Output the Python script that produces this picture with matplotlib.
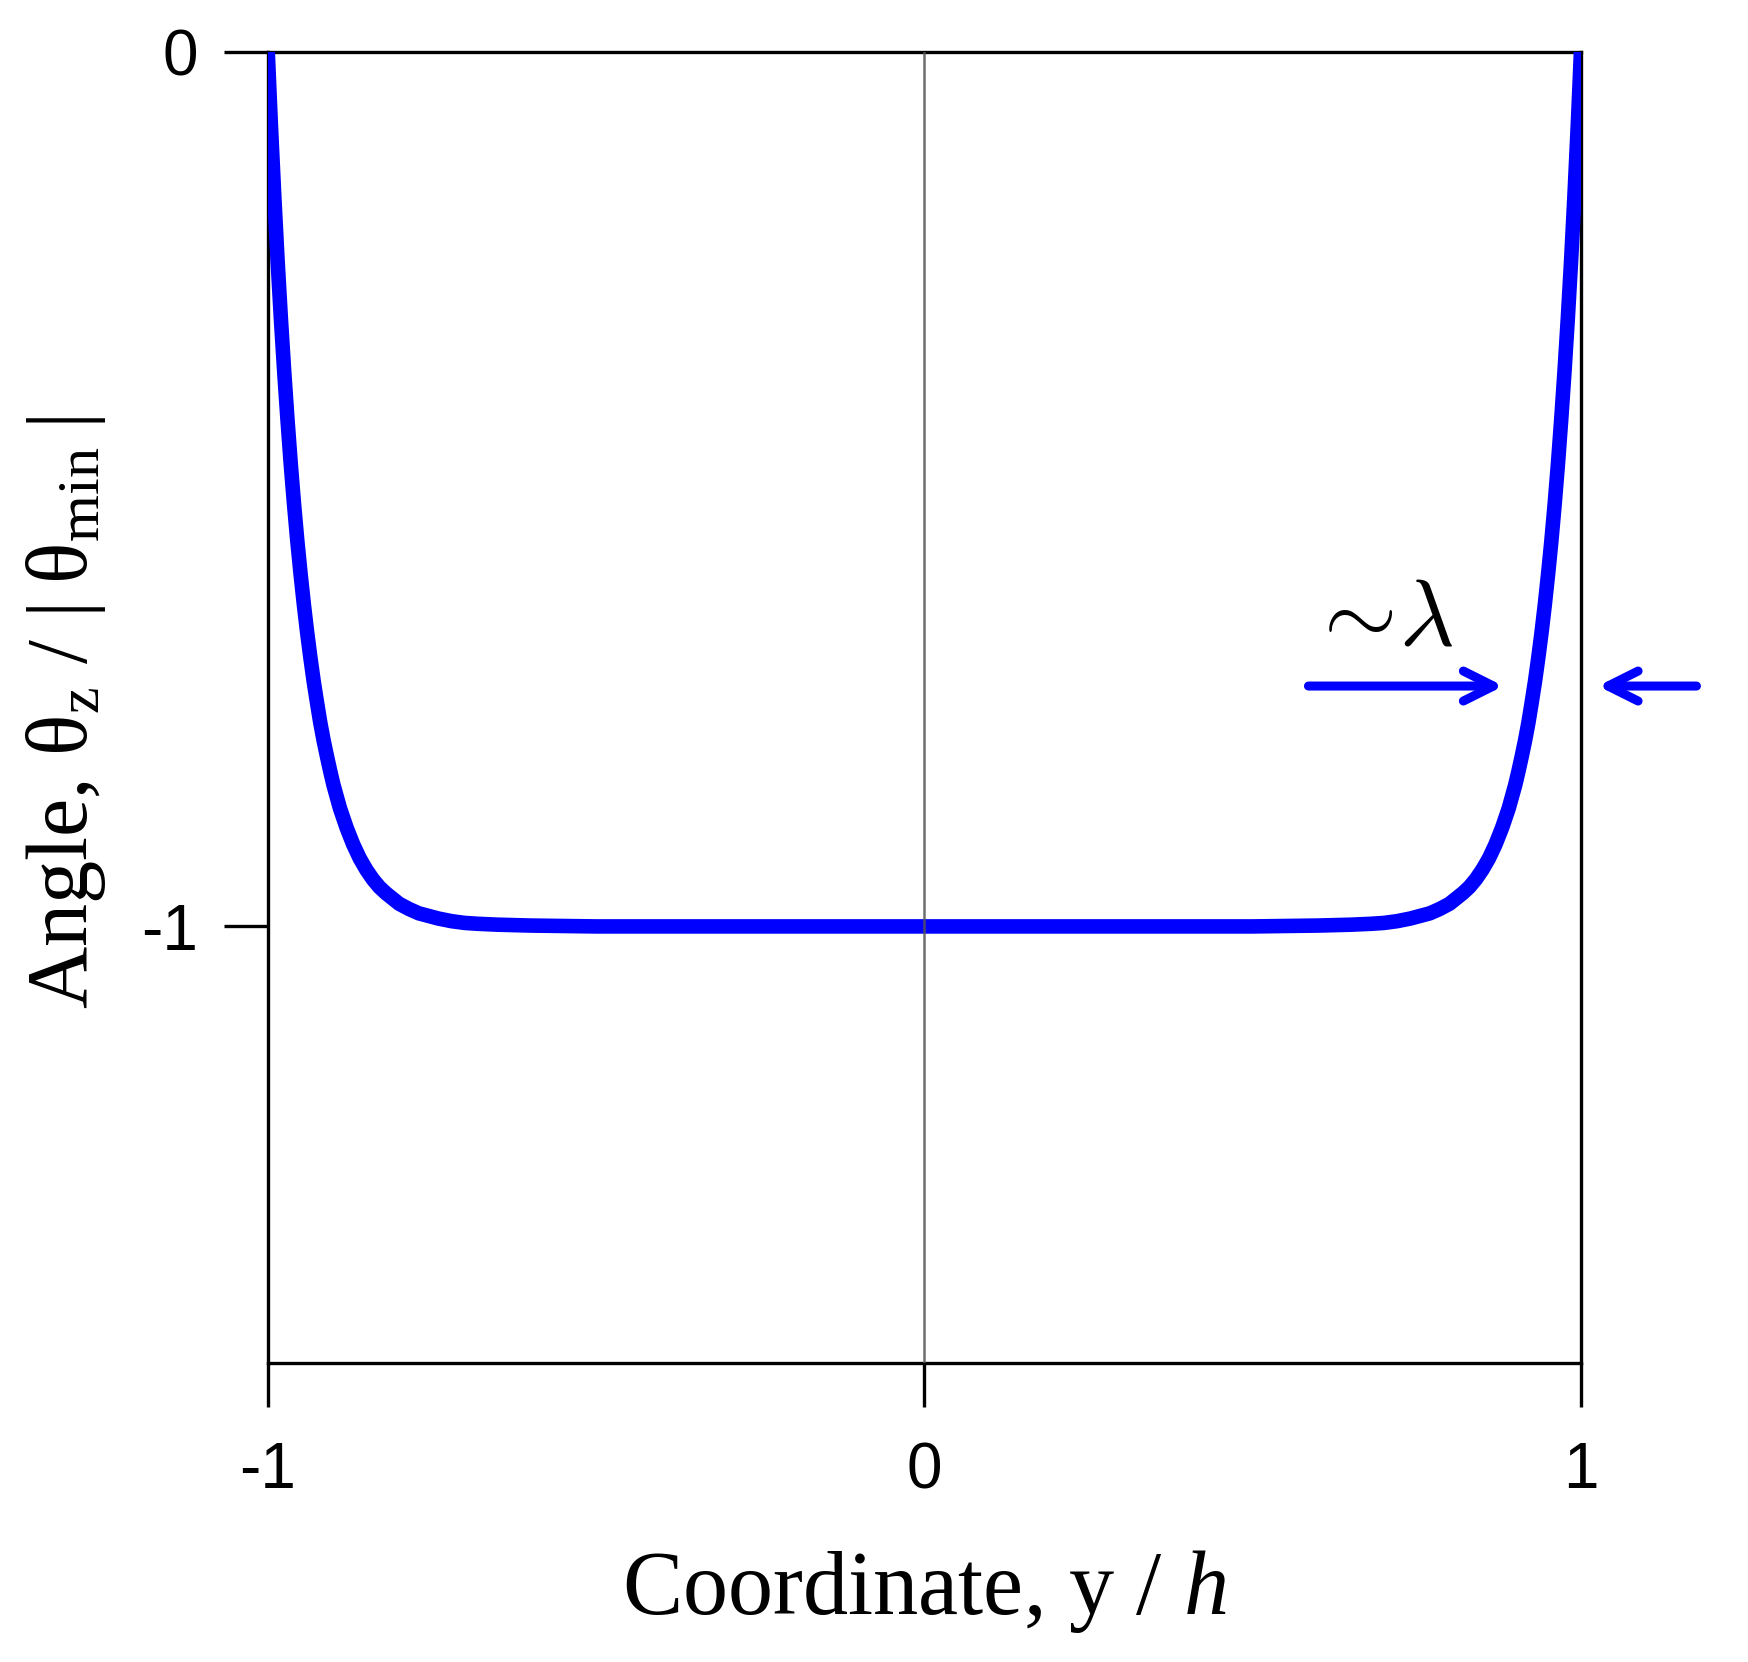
import matplotlib
matplotlib.use("Agg")
import matplotlib.pyplot as plt

# ---- data ----
y_left = [-1.0, -0.9975, -0.995, -0.99, -0.985, -0.98, -0.975, -0.97, -0.965, -0.96,
          -0.955, -0.95, -0.945, -0.94, -0.935, -0.93, -0.925, -0.92, -0.915, -0.91,
          -0.905, -0.90, -0.89, -0.88, -0.87, -0.86, -0.85, -0.84, -0.83, -0.82,
          -0.81, -0.80, -0.785, -0.77, -0.755, -0.74, -0.72, -0.70, -0.68, -0.65,
          -0.60, -0.50, -0.30]
angle_left = [0.0, -0.044, -0.087, -0.166, -0.239, -0.305, -0.365, -0.420, -0.471, -0.517,
              -0.559, -0.597, -0.632, -0.664, -0.693, -0.720, -0.744, -0.767, -0.787, -0.805,
              -0.822, -0.838, -0.865, -0.887, -0.906, -0.922, -0.935, -0.946, -0.955, -0.962,
              -0.968, -0.974, -0.980, -0.985, -0.988, -0.991, -0.994, -0.996, -0.997, -0.998,
              -0.999, -1.0, -1.0]
y_mid = [0.0]
angle_mid = [-1.0]
y_right = [0.30, 0.50, 0.60, 0.65, 0.68, 0.70, 0.72, 0.74, 0.755, 0.77,
           0.785, 0.80, 0.81, 0.82, 0.83, 0.84, 0.85, 0.86, 0.87, 0.88,
           0.89, 0.90, 0.905, 0.91, 0.915, 0.92, 0.925, 0.93, 0.935, 0.94,
           0.945, 0.95, 0.955, 0.96, 0.965, 0.97, 0.975, 0.98, 0.985, 0.99,
           0.995, 0.9975, 1.0]
angle_right = [-1.0, -1.0, -0.999, -0.998, -0.997, -0.996, -0.994, -0.991, -0.988, -0.985,
               -0.980, -0.974, -0.968, -0.962, -0.955, -0.946, -0.935, -0.922, -0.906, -0.887,
               -0.865, -0.838, -0.822, -0.805, -0.787, -0.767, -0.744, -0.720, -0.693, -0.664,
               -0.632, -0.597, -0.559, -0.517, -0.471, -0.420, -0.365, -0.305, -0.239, -0.166,
               -0.087, -0.044, 0.0]

x_ticks = [-1, 0, 1]
x_ticklabels = ["-1", "0", "1"]
y_ticks = [-1, 0]
y_ticklabels = ["-1", "0"]

# annotation arrow ends (data coords)
arrow_right = [(0.585, -0.725), (0.882, -0.725)]   # (tail, tip)
arrow_left = [(1.176, -0.725), (1.026, -0.725)]    # (tail, tip)
lambda_pos = (0.694, -0.678)

plt.rcParams['mathtext.fontset'] = 'custom'
plt.rcParams['mathtext.rm'] = 'Liberation Serif'
plt.rcParams['mathtext.it'] = 'Liberation Serif:italic'

fig = plt.figure(figsize=(17.49, 16.62), dpi=100)
ax = fig.add_axes([0.1531, 0.17961, 0.9039 - 0.1531, 0.96853 - 0.17961])

blue = '#0000FF'
xs = y_left + y_mid + y_right
vs = angle_left + angle_mid + angle_right
ax.plot(xs, vs, color=blue, lw=10.5, solid_capstyle='round',
        solid_joinstyle='round', zorder=3)
ax.axvline(0, color='#555555', lw=1.8, alpha=0.85, zorder=4)

ax.set_xlim(-1, 1)
ax.set_ylim(-1.5, 0)

for s in ax.spines.values():
    s.set_linewidth(2.4)
    s.set_color('black')

ax.set_xticks(x_ticks)
ax.set_xticklabels(x_ticklabels, fontsize=46, family='Liberation Sans')
ax.set_yticks(y_ticks)
ax.set_yticklabels(y_ticklabels, fontsize=46, family='Liberation Sans')
ax.tick_params(axis='both', direction='out', length=32, width=2.4)
ax.tick_params(axis='x', pad=24)
ax.tick_params(axis='y', pad=18)

ax.set_xlabel(r"Coordinate, y / $\mathit{h}$", fontsize=65,
              family='Liberation Serif', labelpad=34)
ax.set_ylabel("Angle, θ$_\\mathrm{z}$ / |\u2009θ$_\\mathrm{min}$\u2009|", fontsize=62,
              family='Liberation Serif')
ax.yaxis.set_label_coords(-0.122, 0.497)

for tail, tip in (arrow_right, arrow_left):
    ax.annotate('', xy=tip, xytext=tail,
                arrowprops=dict(arrowstyle='->,head_length=0.9,head_width=0.45',
                                color=blue, lw=6.5, capstyle='round',
                                joinstyle='round',
                                shrinkA=0, shrinkB=0, mutation_scale=24),
                annotation_clip=False)
ax.text(lambda_pos[0], lambda_pos[1], r"${\sim}\!\lambda$", fontsize=68,
        ha='center', va='baseline', math_fontfamily='cm')

fig.savefig("out.png", dpi=100)
